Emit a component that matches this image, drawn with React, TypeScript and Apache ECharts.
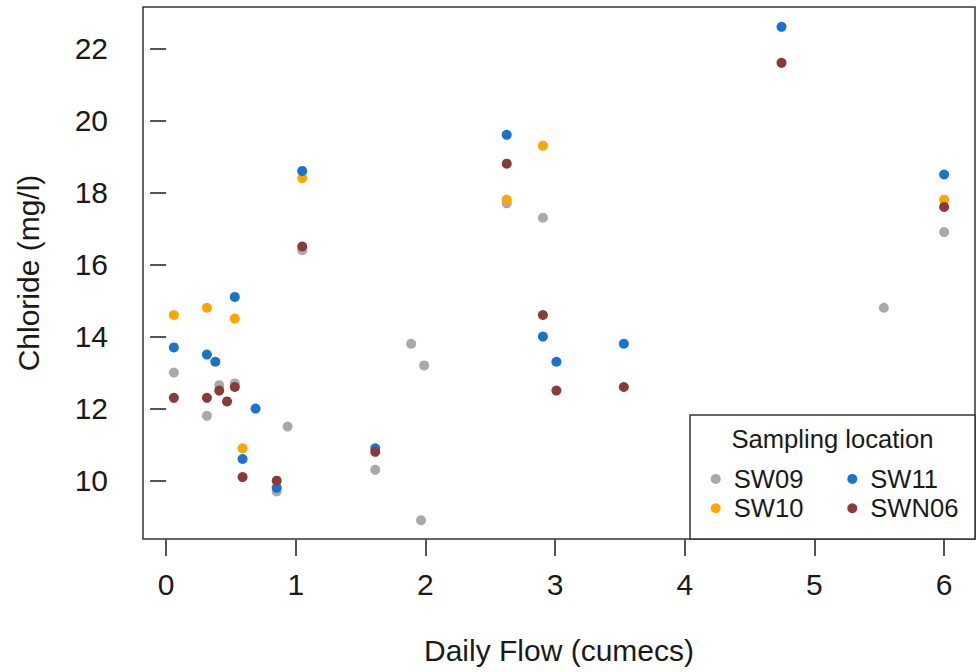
import React, { useEffect, useRef } from "react";
import * as echarts from "echarts";

// Daily flow (cumecs) and chloride (mg/l) per sampling location
const sw09Flow = [0.06, 0.315, 0.41, 0.53, 0.853, 0.937, 1.05, 1.613, 1.89, 1.966, 1.99, 2.627, 2.906, 5.535, 6.0];
const sw09Cl = [13.0, 11.8, 12.65, 12.7, 9.7, 11.5, 16.4, 10.3, 13.8, 8.9, 13.2, 17.7, 17.3, 14.8, 16.9];

const sw10Flow = [0.06, 0.315, 0.53, 0.59, 1.05, 2.627, 2.906, 6.0];
const sw10Cl = [14.6, 14.8, 14.5, 10.9, 18.4, 17.8, 19.3, 17.8];

const sw11Flow = [0.06, 0.315, 0.38, 0.53, 0.59, 0.69, 0.853, 1.05, 1.613, 2.627, 2.906, 3.01, 3.53, 4.746, 6.0];
const sw11Cl = [13.7, 13.5, 13.3, 15.1, 10.6, 12.0, 9.8, 18.6, 10.9, 19.6, 14.0, 13.3, 13.8, 22.6, 18.5];

const swn06Flow = [0.06, 0.315, 0.41, 0.47, 0.53, 0.59, 0.853, 1.05, 1.613, 2.627, 2.906, 3.01, 3.53, 4.746, 6.0];
const swn06Cl = [12.3, 12.3, 12.5, 12.2, 12.6, 10.1, 10.0, 16.5, 10.8, 18.8, 14.6, 12.5, 12.6, 21.6, 17.6];

const seriesNames = ["SW09", "SW10", "SW11", "SWN06"];
const seriesColors = ["#A9A9A9", "#FFA500", "#1874CD", "#8B3A3A"];
const xTicks = [0, 1, 2, 3, 4, 5, 6];
const yTicks = [10, 12, 14, 16, 18, 20, 22];

const xTitle = "Daily Flow (cumecs)";
const yTitle = "Chloride (mg/l)";
const legendTitle = "Sampling location";

const FONT = "'Liberation Sans', Arial, sans-serif";

function zip(xs: number[], ys: number[]) {
  return xs.map((x, i) => [x, ys[i]]);
}

export default function App() {
  const ref = useRef<HTMLDivElement>(null);
  useEffect(() => {
    if (!ref.current) return;
    const chart = echarts.init(ref.current, null, { renderer: "svg" });
    const flows = [sw09Flow, sw10Flow, sw11Flow, swn06Flow];
    const cls = [sw09Cl, sw10Cl, sw11Cl, swn06Cl];
    const legendText = {
      fontSize: 25.6,
      fontFamily: FONT,
      color: "#1a1a1a",
      lineHeight: 29.3,
      padding: [0, 0, 0, 8],
    };
    chart.setOption({
      animation: false,
      backgroundColor: "#ffffff",
      grid: {
        left: 143,
        top: 7,
        width: 832,
        height: 532,
        show: true,
        borderColor: "#333",
        borderWidth: 1.5,
        backgroundColor: "transparent",
      },
      xAxis: {
        type: "value",
        min: -0.178,
        max: 6.238,
        splitLine: { show: false },
        axisLine: { show: false },
        axisTick: {
          show: true,
          customValues: xTicks,
          length: 17,
          lineStyle: { color: "#555", width: 2 },
        },
        axisLabel: {
          customValues: xTicks,
          fontSize: 30,
          fontFamily: FONT,
          color: "#1a1a1a",
          margin: 30,
        },
      },
      yAxis: {
        type: "value",
        min: 8.38,
        max: 23.15,
        splitLine: { show: false },
        axisLine: { show: false },
        axisTick: {
          show: true,
          customValues: yTicks,
          length: 16,
          lineStyle: { color: "#555", width: 2 },
        },
        axisLabel: {
          customValues: yTicks,
          fontSize: 30,
          fontFamily: FONT,
          color: "#1a1a1a",
          margin: 35,
        },
      },
      legend: [
        {
          data: [seriesNames[0], seriesNames[1]],
          orient: "vertical",
          left: 710.7,
          top: 464.3,
          padding: 0,
          itemGap: 0,
          itemWidth: 10,
          itemHeight: 10,
          icon: "circle",
          textStyle: legendText,
          z: 10,
        },
        {
          data: [seriesNames[2], seriesNames[3]],
          orient: "vertical",
          left: 847.3,
          top: 464.3,
          padding: 0,
          itemGap: 0,
          itemWidth: 10,
          itemHeight: 10,
          icon: "circle",
          textStyle: legendText,
          z: 10,
        },
      ],
      graphic: [
        {
          type: "rect",
          shape: { x: 690, y: 415, width: 285, height: 124 },
          style: { fill: "#fff", stroke: "#333", lineWidth: 1.5 },
          z: 5,
        },
        {
          type: "text",
          x: 832.5,
          y: 439,
          style: {
            text: legendTitle,
            fontSize: 25.6,
            fontFamily: FONT,
            fill: "#1a1a1a",
            align: "center",
            verticalAlign: "middle",
          },
          z: 6,
        },
        {
          type: "text",
          x: 559,
          y: 650,
          style: {
            text: xTitle,
            fontSize: 30,
            fontFamily: FONT,
            fill: "#1a1a1a",
            align: "center",
            verticalAlign: "middle",
          },
        },
        {
          type: "text",
          x: 28,
          y: 273,
          rotation: Math.PI / 2,
          style: {
            text: yTitle,
            fontSize: 30,
            fontFamily: FONT,
            fill: "#1a1a1a",
            align: "center",
            verticalAlign: "middle",
          },
        },
      ],
      series: seriesNames.map((name, i) => ({
        name,
        type: "scatter",
        data: zip(flows[i], cls[i]),
        symbol: "circle",
        symbolSize: 10,
        itemStyle: { color: seriesColors[i], opacity: 1 },
        z: 2 + i,
      })),
    });
    return () => chart.dispose();
  }, []);
  return (
    <div
      ref={ref}
      style={{ position: "absolute", left: 0, top: 0, width: 976, height: 672 }}
    />
  );
}
